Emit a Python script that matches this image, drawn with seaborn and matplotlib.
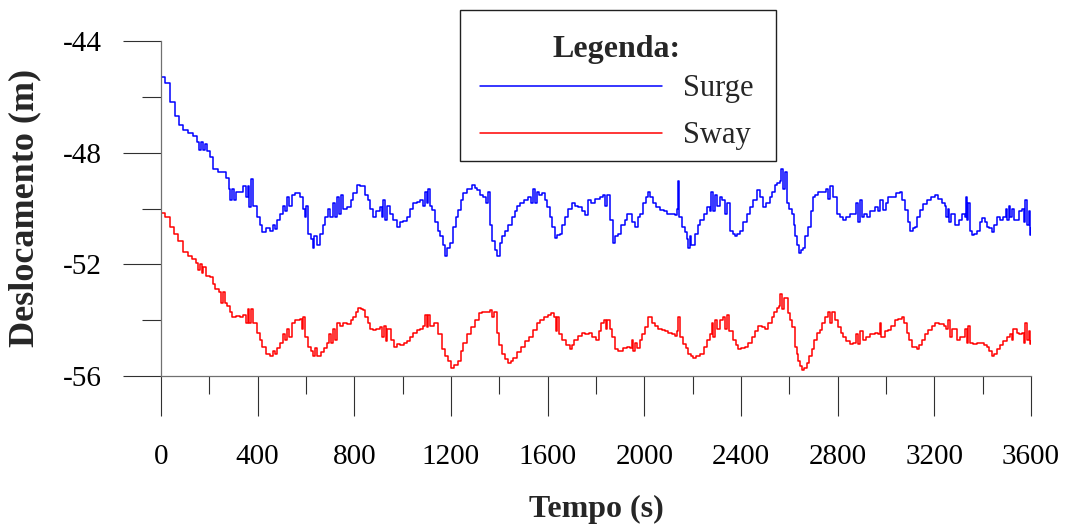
import matplotlib
matplotlib.use("Agg")
import matplotlib.pyplot as plt
import matplotlib.transforms as mtransforms
from matplotlib.patches import Rectangle
from matplotlib.ticker import MultipleLocator
import seaborn as sns
import pandas as pd

# ---- data ----
surge_t = [0, 15, 37, 58, 75, 91, 110, 133, 150, 158, 165, 172, 180, 190, 203, 216, 235, 257, 270, 280,
           287, 293, 300, 310, 327, 340, 350, 358, 365, 372, 380, 397, 410, 418, 435, 451, 465, 472, 482, 492,
           505, 512, 521, 530, 540, 555, 575, 588, 595, 600, 608, 620, 629, 635, 645, 658, 670, 679, 690, 699,
           710, 718, 728, 735, 745, 755, 770, 785, 794, 811, 825, 836, 845, 856, 866, 877, 890, 906, 915, 920,
           927, 935, 947, 960, 976, 989, 1000, 1018, 1030, 1043, 1060, 1072, 1085, 1092, 1100, 1106, 1113, 1121, 1134, 1145,
           1154, 1165, 1175, 1185, 1196, 1208, 1220, 1229, 1240, 1249, 1265, 1287, 1300, 1307, 1320, 1332, 1345, 1353, 1360, 1369,
           1380, 1390, 1403, 1413, 1423, 1435, 1452, 1465, 1475, 1485, 1500, 1518, 1530, 1540, 1548, 1556, 1566, 1576, 1590, 1597,
           1610, 1618, 1630, 1640, 1651, 1660, 1672, 1685, 1700, 1712, 1725, 1740, 1754, 1767, 1780, 1796, 1816, 1828, 1837, 1845,
           1858, 1870, 1880, 1891, 1905, 1920, 1930, 1940, 1950, 1961, 1972, 1982, 1994, 2005, 2015, 2025, 2036, 2050, 2065, 2080,
           2094, 2110, 2127, 2135, 2139, 2145, 2156, 2168, 2175, 2180, 2188, 2195, 2209, 2220, 2230, 2245, 2259, 2270, 2277, 2284,
           2292, 2300, 2313, 2322, 2334, 2340, 2354, 2365, 2375, 2385, 2396, 2410, 2425, 2437, 2449, 2466, 2478, 2491, 2505, 2520,
           2530, 2540, 2550, 2561, 2567, 2573, 2580, 2590, 2600, 2611, 2618, 2623, 2632, 2640, 2648, 2656, 2666, 2677, 2688, 2698,
           2708, 2718, 2735, 2750, 2760, 2768, 2780, 2797, 2810, 2822, 2835, 2850, 2863, 2875, 2885, 2892, 2900, 2910, 2921, 2935,
           2954, 2965, 2975, 2987, 3000, 3010, 3024, 3040, 3058, 3068, 3078, 3090, 3099, 3110, 3120, 3130, 3140, 3155, 3169, 3185,
           3202, 3215, 3231, 3245, 3250, 3256, 3262, 3270, 3285, 3300, 3314, 3325, 3330, 3335, 3340, 3348, 3355, 3365, 3376, 3390,
           3397, 3408, 3417, 3428, 3438, 3448, 3459, 3470, 3484, 3495, 3500, 3508, 3513, 3520, 3530, 3542, 3552, 3562, 3570, 3577,
           3583, 3590, 3595, 3600]
surge_m = [-45.3, -45.5, -46.2, -46.7, -47.0, -47.2, -47.3, -47.4, -47.6, -47.9, -47.6, -47.9, -47.7, -47.95, -48.15, -48.6, -48.7, -48.7, -48.9, -49.3,
           -49.7, -49.3, -49.7, -49.4, -49.4, -49.2, -49.6, -49.2, -49.95, -48.95, -49.9, -50.3, -50.6, -50.85, -50.7, -50.8, -50.6, -50.75, -50.4, -50.2,
           -49.9, -50.1, -49.6, -49.9, -49.5, -49.45, -49.6, -50.0, -50.3, -49.9, -50.9, -51.1, -51.4, -51.0, -51.3, -50.9, -50.6, -50.3, -50.0, -50.3,
           -49.8, -50.3, -49.6, -50.2, -49.5, -50.0, -49.95, -49.7, -49.45, -49.15, -49.2, -49.2, -49.5, -49.7, -50.0, -50.3, -50.1, -49.95, -50.3, -49.7,
           -50.4, -49.9, -50.2, -50.4, -50.65, -50.5, -50.45, -50.3, -50.0, -49.8, -49.75, -49.7, -49.9, -49.4, -49.8, -49.3, -49.9, -50.05, -50.5, -50.8,
           -51.0, -51.3, -51.7, -51.4, -51.25, -50.65, -50.3, -50.05, -49.7, -49.45, -49.3, -49.15, -49.25, -49.35, -49.5, -49.6, -49.8, -49.4, -50.6, -51.15,
           -51.5, -51.7, -51.25, -51.0, -50.8, -50.6, -50.3, -50.1, -49.9, -49.8, -49.7, -49.6, -49.8, -49.3, -49.8, -49.4, -49.5, -49.45, -49.7, -49.95,
           -50.3, -50.65, -51.05, -50.95, -50.9, -50.6, -50.3, -50.0, -49.8, -49.9, -49.95, -50.1, -50.25, -49.7, -49.8, -49.65, -49.6, -49.5, -49.9, -49.5,
           -50.4, -51.25, -51.0, -50.9, -50.6, -50.4, -50.2, -50.2, -50.5, -50.65, -50.3, -50.2, -49.8, -49.6, -49.4, -49.6, -49.8, -49.95, -50.05, -50.1,
           -50.2, -50.2, -50.25, -50.0, -49.0, -50.3, -50.65, -50.85, -51.1, -51.4, -51.0, -51.3, -50.9, -50.6, -50.4, -50.2, -49.95, -50.1, -49.4, -50.1,
           -49.5, -49.9, -49.6, -49.7, -50.2, -49.8, -50.8, -50.9, -51.0, -50.9, -50.8, -50.5, -50.2, -49.95, -49.7, -49.35, -49.6, -49.95, -49.8, -49.6,
           -49.4, -49.15, -49.1, -49.0, -48.6, -49.3, -48.7, -49.8, -50.0, -50.2, -50.6, -51.0, -51.3, -51.6, -51.5, -51.4, -51.0, -50.65, -50.1, -49.6,
           -49.5, -49.4, -49.4, -49.3, -49.65, -49.2, -49.6, -50.2, -50.3, -50.4, -50.3, -50.2, -50.2, -49.8, -50.5, -49.7, -50.3, -50.2, -50.3, -50.1,
           -49.95, -50.1, -49.7, -50.05, -49.8, -49.6, -49.6, -49.45, -49.4, -49.7, -50.05, -50.5, -50.8, -50.7, -50.65, -50.3, -50.05, -49.85, -49.7, -49.6,
           -49.5, -49.65, -49.8, -49.9, -50.3, -50.0, -50.5, -50.2, -50.6, -50.4, -50.2, -50.3, -49.6, -50.4, -49.8, -50.8, -50.95, -50.9, -50.8, -50.5,
           -50.35, -50.5, -50.65, -50.7, -50.85, -50.6, -50.3, -50.4, -50.3, -50.0, -50.4, -49.9, -50.3, -50.0, -50.4, -50.4, -50.1, -50.0, -50.5, -49.7,
           -50.6, -50.1, -50.95, -50.7]

sway_t = [0, 15, 37, 55, 70, 91, 110, 128, 145, 155, 161, 168, 175, 185, 203, 215, 223, 240, 250, 257,
          265, 275, 285, 293, 310, 327, 340, 350, 358, 365, 372, 380, 397, 408, 418, 435, 451, 462, 472, 482,
          492, 505, 512, 521, 530, 540, 555, 575, 582, 588, 595, 608, 620, 630, 637, 645, 663, 675, 685, 695,
          702, 710, 718, 728, 740, 755, 770, 785, 794, 805, 816, 826, 836, 846, 856, 866, 877, 890, 906, 915,
          922, 930, 937, 950, 964, 975, 989, 1005, 1018, 1030, 1043, 1058, 1072, 1085, 1092, 1100, 1106, 1115, 1129, 1145,
          1162, 1175, 1187, 1200, 1212, 1229, 1240, 1249, 1265, 1283, 1300, 1316, 1330, 1348, 1360, 1370, 1378, 1391, 1400, 1412,
          1425, 1437, 1447, 1457, 1475, 1490, 1505, 1523, 1540, 1555, 1570, 1585, 1600, 1612, 1625, 1633, 1640, 1648, 1659, 1675,
          1691, 1700, 1710, 1725, 1743, 1755, 1770, 1785, 1802, 1812, 1822, 1835, 1840, 1847, 1856, 1865, 1878, 1890, 1899, 1912,
          1927, 1940, 1948, 1954, 1962, 1970, 1982, 1992, 2003, 2015, 2030, 2044, 2058, 2072, 2085, 2099, 2113, 2127, 2135, 2141,
          2147, 2162, 2172, 2182, 2192, 2203, 2215, 2230, 2245, 2258, 2270, 2278, 2285, 2292, 2300, 2313, 2325, 2332, 2340, 2350,
          2368, 2378, 2389, 2402, 2416, 2430, 2444, 2458, 2472, 2485, 2499, 2513, 2527, 2537, 2547, 2557, 2563, 2570, 2578, 2596,
          2603, 2610, 2623, 2630, 2637, 2644, 2651, 2660, 2672, 2682, 2692, 2703, 2713, 2726, 2737, 2747, 2760, 2768, 2775, 2788,
          2802, 2812, 2822, 2836, 2850, 2865, 2875, 2885, 2892, 2905, 2919, 2935, 2954, 2965, 2975, 2981, 2995, 3009, 3022, 3037,
          3050, 3065, 3075, 3085, 3095, 3106, 3127, 3138, 3148, 3160, 3175, 3190, 3203, 3220, 3238, 3250, 3258, 3265, 3275, 3293,
          3305, 3320, 3328, 3334, 3340, 3348, 3362, 3375, 3390, 3405, 3417, 3428, 3438, 3448, 3459, 3472, 3486, 3500, 3513, 3520,
          3527, 3541, 3552, 3562, 3570, 3577, 3585, 3590, 3596, 3600]
sway_m = [-50.15, -50.3, -50.65, -50.9, -51.15, -51.55, -51.7, -51.8, -51.95, -52.2, -52.0, -52.3, -52.1, -52.4, -52.45, -52.7, -52.9, -53.0, -53.4, -53.0,
          -53.4, -53.5, -53.7, -53.9, -53.85, -53.9, -53.8, -54.1, -53.6, -54.1, -53.6, -54.1, -54.45, -54.7, -54.95, -55.2, -55.3, -55.1, -55.2, -55.0,
          -54.8, -54.5, -54.7, -54.3, -54.6, -54.1, -54.0, -53.95, -54.3, -53.9, -54.6, -54.95, -55.1, -55.3, -55.0, -55.3, -55.15, -55.0, -54.8, -54.5,
          -54.8, -54.3, -54.7, -54.1, -54.2, -54.1, -54.15, -54.0, -53.9, -53.7, -53.55, -53.6, -53.65, -53.9, -54.1, -54.3, -54.35, -54.3, -54.25, -54.6,
          -54.2, -54.75, -54.3, -54.7, -54.95, -54.85, -54.9, -54.8, -54.75, -54.6, -54.45, -54.35, -54.3, -54.2, -53.8, -54.25, -53.8, -54.2, -54.1, -54.5,
          -55.05, -55.3, -55.45, -55.7, -55.6, -55.45, -55.1, -54.8, -54.5, -54.25, -54.0, -53.75, -53.7, -53.7, -53.65, -53.9, -53.7, -54.45, -54.9, -55.2,
          -55.4, -55.55, -55.45, -55.35, -55.15, -54.95, -54.75, -54.6, -54.35, -54.1, -54.0, -53.9, -53.8, -53.75, -53.9, -54.4, -53.9, -54.5, -54.7, -54.9,
          -55.05, -54.9, -54.7, -54.55, -54.45, -54.5, -54.45, -54.6, -54.7, -54.4, -54.1, -54.0, -54.3, -54.0, -54.3, -54.6, -55.05, -55.1, -55.1, -55.0,
          -54.95, -55.0, -54.7, -55.1, -54.8, -55.0, -54.7, -54.5, -54.25, -53.9, -54.1, -54.2, -54.3, -54.35, -54.4, -54.45, -54.5, -54.55, -54.4, -53.9,
          -54.6, -54.85, -55.0, -55.2, -55.3, -55.35, -55.3, -55.2, -54.95, -54.7, -54.5, -54.1, -54.6, -54.0, -54.3, -54.0, -53.9, -54.3, -53.8, -54.4,
          -54.7, -54.9, -55.05, -55.0, -54.95, -54.8, -54.6, -54.4, -54.2, -54.25, -54.3, -54.1, -53.9, -53.7, -53.55, -53.5, -53.05, -53.6, -53.2, -53.75,
          -54.0, -54.25, -54.95, -55.2, -55.45, -55.65, -55.8, -55.7, -55.55, -55.3, -55.05, -54.7, -54.45, -54.35, -54.1, -53.9, -53.7, -54.1, -53.7, -54.0,
          -54.25, -54.45, -54.6, -54.75, -54.85, -54.8, -54.5, -54.85, -54.4, -54.7, -54.6, -54.5, -54.45, -54.5, -54.1, -54.6, -54.4, -54.35, -54.2, -54.0,
          -53.95, -53.9, -54.1, -54.45, -54.7, -54.95, -55.05, -54.9, -54.7, -54.5, -54.35, -54.2, -54.1, -54.15, -54.2, -54.3, -54.0, -54.6, -54.3, -54.7,
          -54.6, -54.6, -54.3, -54.8, -54.2, -54.8, -54.85, -54.8, -54.8, -54.9, -54.95, -55.1, -55.3, -55.2, -55.05, -54.9, -54.75, -54.6, -54.5, -54.7,
          -54.3, -54.45, -54.5, -54.45, -54.8, -54.1, -54.7, -54.4, -54.85, -54.75]

series_names = ["Surge", "Sway"]
series_colors = ["#0000FF", "#FF0000"]
x_ticks_major = list(range(0, 3601, 400))
y_ticks_major = [-56, -52, -48, -44]

# ---- figure ----
sns.set_style("white")
plt.rcParams["font.family"] = ["Liberation Serif", "DejaVu Serif"]
plt.rcParams["axes.unicode_minus"] = False

fig = plt.figure(figsize=(10.68, 5.28), dpi=100)
ax = fig.add_axes([161 / 1068, 1 - 376 / 528, 870 / 1068, 335 / 528])

df_surge = pd.DataFrame({"t": surge_t, "m": surge_m})
df_sway = pd.DataFrame({"t": sway_t, "m": sway_m})
sns.lineplot(data=df_surge, x="t", y="m", ax=ax, color=series_colors[0], lw=1.1,
             drawstyle="steps-post", estimator=None, sort=False, label=series_names[0])
sns.lineplot(data=df_sway, x="t", y="m", ax=ax, color=series_colors[1], lw=1.1,
             drawstyle="steps-post", estimator=None, sort=False, label=series_names[1])

ax.set_xlim(0, 3600)
ax.set_ylim(-56, -44)
ax.set_xticks(x_ticks_major)
ax.set_yticks(y_ticks_major)
ax.xaxis.set_minor_locator(MultipleLocator(200))
ax.yaxis.set_minor_locator(MultipleLocator(2))

for s in ["top", "right"]:
    ax.spines[s].set_visible(False)
for s in ["left", "bottom"]:
    ax.spines[s].set_color("#707070")
    ax.spines[s].set_linewidth(0.9)

ax.tick_params(which="both", bottom=True, left=True, top=False, right=False)
ax.tick_params(axis="x", which="major", direction="out", length=28.8, width=0.8,
               color="#303030", labelsize=21, pad=20, labelcolor="black")
ax.tick_params(axis="x", which="minor", direction="out", length=13, width=0.8, color="#303030")
ax.tick_params(axis="y", which="major", direction="out", length=27.4, width=0.8,
               color="#303030", labelsize=21, pad=15, labelcolor="black")
ax.tick_params(axis="y", which="minor", direction="out", length=13.7, width=0.8, color="#303030")

ax.set_xlabel("Tempo (s)", fontsize=23, fontweight="bold", labelpad=18)
ax.set_ylabel("Deslocamento (m)", fontsize=26, fontweight="bold")
ax.yaxis.set_label_coords(41 / 1068, 1 - 208 / 528, transform=fig.transFigure)

# legend frame drawn as a figure rectangle (outline only), legend itself frameless
fig.patches.append(Rectangle((460 / 1068, 1 - 161 / 528), 316 / 1068, 151 / 528,
                             transform=fig.transFigure, fill=False,
                             edgecolor="#202020", linewidth=1.0, zorder=5))

leg = ax.legend(loc="upper left", bbox_to_anchor=(466 / 1068, 1 - 13.5 / 528),
                bbox_transform=fig.transFigure, borderaxespad=0,
                title="Legenda:", fontsize=22, frameon=False,
                handlelength=5.95, handletextpad=0.69, labelspacing=0.59,
                borderpad=0.45)
title = leg.get_title()
title.set_fontweight("bold")
title.set_fontsize(23)
title.set_transform(title.get_transform() + mtransforms.Affine2D().translate(0, -7.5))
for line in leg.get_lines():
    line.set_linewidth(1.1)

fig.savefig("out.png", dpi=100)
